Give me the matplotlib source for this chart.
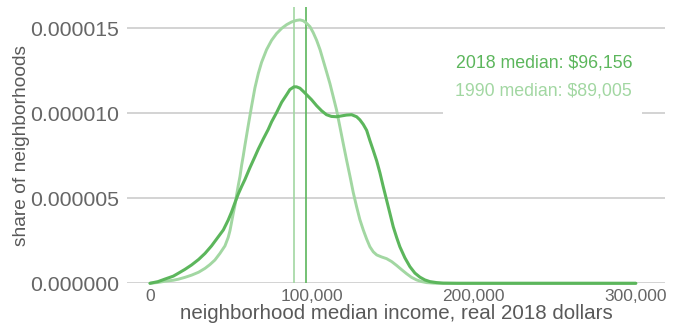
import matplotlib
matplotlib.use("Agg")
import matplotlib.pyplot as plt
from matplotlib.patches import Rectangle

plt.rcParams['font.family'] = ['Liberation Sans', 'DejaVu Sans']

# neighborhood median income (thousands of real 2018 dollars) and density (x1e-6), 2018
income_2018_k = [0, 5, 9.3, 14.4, 17.5, 21.6, 25.7, 30, 34, 38, 42.2, 45.3, 48.3, 50.4, 52.5,
                 54.5, 56.6, 58.6, 61.7, 64.8, 66.9, 70, 73, 75.1, 78.2, 81.3, 84.4, 86.4,
                 88.9, 90.5, 92.6, 94.6, 96.7, 99.8, 102.9, 106, 109, 112, 115.2, 118.3,
                 121.4, 124.5, 127.6, 129.6, 131.7, 133.8, 135.8, 137.8, 140, 142, 144,
                 146.1, 148.2, 150.2, 152.3, 154.3, 157.4, 160.5, 163.6, 166.7, 169.7,
                 172.8, 177, 181, 190, 200, 250, 300]
density_2018_e6 = [0, 0.1, 0.25, 0.42, 0.59, 0.82, 1.08, 1.4, 1.76, 2.2, 2.74, 3.14, 3.72,
                   4.2, 4.75, 5.25, 5.7, 6.1, 6.8, 7.45, 7.9, 8.5, 9.05, 9.5, 10.05, 10.65,
                   11.1, 11.4, 11.56, 11.56, 11.48, 11.3, 11.1, 10.8, 10.45, 10.15, 9.92,
                   9.82, 9.8, 9.85, 9.9, 9.92, 9.8, 9.62, 9.35, 9.0, 8.4, 7.84, 7.2, 6.5,
                   5.7, 4.9, 4.1, 3.33, 2.7, 2.15, 1.5, 0.98, 0.6, 0.36, 0.2, 0.1, 0.04,
                   0.01, 0, 0, 0, 0]

# 1990
income_1990_k = [0, 5, 9.3, 14.4, 17.5, 21.6, 25.7, 30, 34, 37, 40.1, 43.2, 46.3, 48.3, 49.4,
                 50.4, 51.4, 52.5, 53.5, 54.5, 55.6, 56.6, 57.6, 58.6, 60.7, 62.7, 64.8,
                 66.9, 68.9, 72, 75.1, 78.2, 81.3, 84.4, 87.5, 90.5, 92.6, 94.6, 96.7, 98.8,
                 100.8, 102.9, 105, 107, 109, 111.1, 113.1, 115.2, 117.3, 119.3, 121.4,
                 123.5, 125.5, 127.6, 129.6, 131.7, 133.8, 135.8, 137.9, 140, 143, 146.1,
                 149.2, 152.3, 155.4, 158.5, 161.5, 164.6, 167.7, 170.8, 175, 180, 200,
                 250, 300]
density_1990_e6 = [0, 0.05, 0.12, 0.18, 0.24, 0.35, 0.48, 0.65, 0.88, 1.1, 1.37, 1.76, 2.2,
                   2.7, 3.1, 3.6, 4.1, 4.6, 5.2, 5.75, 6.3, 6.95, 7.5, 8.1, 9.3, 10.4, 11.5,
                   12.35, 13.0, 13.75, 14.3, 14.7, 15.0, 15.22, 15.38, 15.47, 15.5, 15.45,
                   15.3, 15.1, 14.75, 14.3, 13.75, 13.1, 12.45, 11.76, 11.0, 10.2, 9.2,
                   8.24, 7.25, 6.3, 5.35, 4.5, 3.75, 3.14, 2.6, 2.15, 1.85, 1.67, 1.55,
                   1.45, 1.28, 1.05, 0.8, 0.56, 0.35, 0.2, 0.1, 0.04, 0.01, 0, 0, 0, 0]

median_2018 = 96156
median_1990 = 89005
label_2018 = "2018 median: $96,156"
label_1990 = "1990 median: $89,005"

x_ticks = [0, 100000, 200000, 300000]
x_ticklabels = ["0", "100,000", "200,000", "300,000"]
y_ticks = [0, 0.000005, 0.000010, 0.000015]
y_ticklabels = ["0.000000", "0.000005", "0.000010", "0.000015"]

income_2018 = [v * 1000 for v in income_2018_k]
density_2018 = [v * 1e-6 for v in density_2018_e6]
income_1990 = [v * 1000 for v in income_1990_k]
density_1990 = [v * 1e-6 for v in density_1990_e6]

dark = "#5cb65c"
light = "#a2d7a2"
grey_text = "#666666"
grid = "#c8c8c8"

fig = plt.figure(figsize=(6.74, 3.26), dpi=100)
ax = fig.add_axes([0.1884, 0.131, 0.7982, 0.8466])

ax.set_xlim(-14200, 318000)
ax.set_ylim(0, 1.624e-5)

for yt in y_ticks:
    ax.axhline(yt, color=grid, lw=1.1, zorder=1)

ax.axvline(median_1990, color=light, lw=1.2, zorder=2)
ax.axvline(median_2018, color=dark, lw=1.2, zorder=2)

ax.plot(income_1990, density_1990, color=light, lw=2.1, zorder=3, clip_on=False,
        solid_capstyle='round', solid_joinstyle='round')
ax.plot(income_2018, density_2018, color=dark, lw=2.2, zorder=4, clip_on=False,
        solid_capstyle='round', solid_joinstyle='round')

ax.add_patch(Rectangle((0.587, 0.60), 0.37, 0.255, transform=ax.transAxes,
                       facecolor="white", edgecolor="none", zorder=1.5))
ax.text(0.939, 0.798, label_2018, transform=ax.transAxes, ha="right", va="center",
        color=dark, fontsize=12.8, zorder=5)
ax.text(0.939, 0.695, label_1990, transform=ax.transAxes, ha="right", va="center",
        color=light, fontsize=12.8, zorder=5)

ax.set_xticks(x_ticks)
ax.set_xticklabels(x_ticklabels)
ax.set_yticks(y_ticks)
ax.set_yticklabels(y_ticklabels)
ax.tick_params(axis='x', length=0, pad=4, labelsize=12.5, labelcolor=grey_text)
ax.tick_params(axis='y', length=0, pad=6, labelsize=15.3, labelcolor=grey_text)
for s in ax.spines.values():
    s.set_visible(False)

ax.set_xlabel("neighborhood median income, real 2018 dollars", fontsize=14.8,
              color="#595959", labelpad=0)
ax.set_ylabel("share of neighborhoods", fontsize=13.8, color="#595959", labelpad=0)

fig.savefig("out.png", dpi=100)
